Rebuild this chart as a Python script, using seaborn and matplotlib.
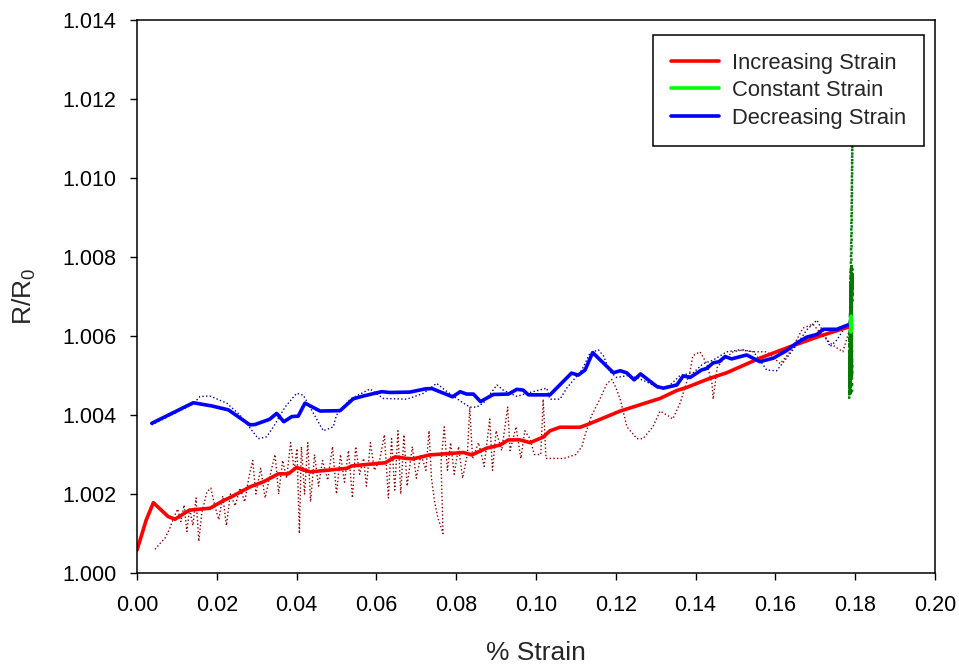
import matplotlib
matplotlib.use("Agg")
import matplotlib.pyplot as plt
import seaborn as sns
from matplotlib.lines import Line2D
from matplotlib.ticker import FormatStrFormatter

# ---- smoothed curves ----
inc_strain = [0.0000, 0.0023, 0.0041, 0.0078, 0.0095, 0.0131, 0.0183, 0.0216, 0.0237, 0.0283,
              0.0317, 0.0354, 0.0379, 0.0400, 0.0434, 0.0526, 0.0538, 0.0609, 0.0622, 0.0647,
              0.0676, 0.0692, 0.0734, 0.0818, 0.0839, 0.0876, 0.0910, 0.0931, 0.0960, 0.0985,
              0.1018, 0.1035, 0.1060, 0.1110, 0.1127, 0.1211, 0.1311, 0.1353, 0.1378, 0.1436,
              0.1478, 0.1561, 0.1637, 0.1712, 0.1787]
inc_r = [1.00058, 1.00134, 1.00178, 1.00143, 1.00136, 1.00159, 1.00164, 1.00183, 1.00193, 1.00218,
         1.00231, 1.00251, 1.00251, 1.00267, 1.00256, 1.00265, 1.00271, 1.00278, 1.00279, 1.00294,
         1.00290, 1.00289, 1.00299, 1.00305, 1.00299, 1.00316, 1.00324, 1.00337, 1.00337, 1.00330,
         1.00344, 1.00360, 1.00369, 1.00369, 1.00375, 1.00410, 1.00442, 1.00462, 1.00470, 1.00493,
         1.00507, 1.00544, 1.00573, 1.00600, 1.00624]

const_strain = [0.1788, 0.1790, 0.1791, 0.1789, 0.1790]
const_r = [1.0063, 1.0065, 1.0062, 1.0061, 1.0064]

dec_strain = [0.0037, 0.0141, 0.0187, 0.0229, 0.0283, 0.0296, 0.0332, 0.0350, 0.0368, 0.0388,
              0.0404, 0.0421, 0.0459, 0.0509, 0.0542, 0.0567, 0.0613, 0.0634, 0.0684, 0.0722,
              0.0739, 0.0791, 0.0810, 0.0826, 0.0843, 0.0861, 0.0893, 0.0931, 0.0952, 0.0968,
              0.0981, 0.1035, 0.1089, 0.1106, 0.1123, 0.1142, 0.1194, 0.1211, 0.1227, 0.1246,
              0.1262, 0.1303, 0.1319, 0.1353, 0.1369, 0.1386, 0.1415, 0.1428, 0.1444, 0.1459,
              0.1474, 0.1490, 0.1528, 0.1561, 0.1595, 0.1628, 0.1653, 0.1678, 0.1704, 0.1720,
              0.1754, 0.1787]
dec_r = [1.00379, 1.00431, 1.00423, 1.00413, 1.00375, 1.00376, 1.00389, 1.00404, 1.00383, 1.00396,
         1.00397, 1.00430, 1.00410, 1.00411, 1.00441, 1.00448, 1.00459, 1.00457, 1.00458, 1.00466,
         1.00467, 1.00446, 1.00459, 1.00453, 1.00453, 1.00434, 1.00452, 1.00453, 1.00465, 1.00463,
         1.00451, 1.00451, 1.00506, 1.00501, 1.00514, 1.00558, 1.00507, 1.00512, 1.00507, 1.00489,
         1.00504, 1.00472, 1.00468, 1.00476, 1.00499, 1.00495, 1.00514, 1.00518, 1.00532, 1.00535,
         1.00548, 1.00542, 1.00552, 1.00535, 1.00544, 1.00563, 1.00582, 1.00597, 1.00604, 1.00617,
         1.00617, 1.00630]

# ---- raw measurements ----
inc_raw_strain = [0.0045, 0.0058, 0.0070, 0.0081, 0.0092, 0.0102, 0.0110, 0.0118, 0.0125, 0.0132,
                  0.0140, 0.0148, 0.0155, 0.0162, 0.0175, 0.0185, 0.0195, 0.0205, 0.0215, 0.0224,
                  0.0234, 0.0246, 0.0258, 0.0270, 0.0280, 0.0290, 0.0298, 0.0310, 0.0321, 0.0333,
                  0.0346, 0.0355, 0.0365, 0.0375, 0.0385, 0.0394, 0.0401, 0.0407, 0.0412, 0.0420,
                  0.0428, 0.0435, 0.0445, 0.0455, 0.0465, 0.0478, 0.0490, 0.0500, 0.0510, 0.0520,
                  0.0530, 0.0540, 0.0548, 0.0558, 0.0568, 0.0575, 0.0585, 0.0595, 0.0608, 0.0620,
                  0.0630, 0.0638, 0.0646, 0.0654, 0.0661, 0.0669, 0.0677, 0.0690, 0.0700, 0.0712,
                  0.0724, 0.0732, 0.0738, 0.0746, 0.0754, 0.0767, 0.0762, 0.0770, 0.0778, 0.0786,
                  0.0795, 0.0806, 0.0816, 0.0828, 0.0834, 0.0841, 0.0856, 0.0870, 0.0884, 0.0891,
                  0.0900, 0.0914, 0.0929, 0.0935, 0.0950, 0.0962, 0.0972, 0.0985, 0.0996, 0.1005,
                  0.1012, 0.1018, 0.1025, 0.1040, 0.1070, 0.1100, 0.1115, 0.1123, 0.1140, 0.1160,
                  0.1178, 0.1190, 0.1200, 0.1211, 0.1228, 0.1253, 0.1268, 0.1293, 0.1311, 0.1328,
                  0.1343, 0.1361, 0.1386, 0.1393, 0.1411, 0.1428, 0.1441, 0.1444, 0.1454, 0.1469,
                  0.1494, 0.1519, 0.1544, 0.1579, 0.1612, 0.1637, 0.1669, 0.1694, 0.1719, 0.1740,
                  0.1754, 0.1769, 0.1787]
inc_raw_r = [1.00060, 1.00075, 1.00088, 1.00110, 1.00140, 1.00162, 1.00130, 1.00172, 1.00105, 1.00165,
             1.00120, 1.00190, 1.00080, 1.00150, 1.00205, 1.00215, 1.00170, 1.00135, 1.00195, 1.00120,
             1.00200, 1.00170, 1.00215, 1.00180, 1.00240, 1.00285, 1.00200, 1.00265, 1.00190, 1.00245,
             1.00300, 1.00200, 1.00285, 1.00240, 1.00330, 1.00260, 1.00315, 1.00100, 1.00320, 1.00200,
             1.00330, 1.00180, 1.00300, 1.00220, 1.00285, 1.00235, 1.00320, 1.00200, 1.00300, 1.00230,
             1.00310, 1.00190, 1.00320, 1.00250, 1.00290, 1.00220, 1.00330, 1.00260, 1.00285, 1.00350,
             1.00190, 1.00340, 1.00210, 1.00360, 1.00200, 1.00350, 1.00220, 1.00320, 1.00240, 1.00300,
             1.00260, 1.00360, 1.00240, 1.00180, 1.00140, 1.00100, 1.00280, 1.00370, 1.00260, 1.00330,
             1.00250, 1.00320, 1.00240, 1.00300, 1.00420, 1.00290, 1.00330, 1.00270, 1.00390, 1.00260,
             1.00360, 1.00310, 1.00420, 1.00310, 1.00370, 1.00290, 1.00360, 1.00340, 1.00300, 1.00300,
             1.00300, 1.00440, 1.00290, 1.00290, 1.00290, 1.00300, 1.00320, 1.00350, 1.00400, 1.00440,
             1.00480, 1.00490, 1.00470, 1.00440, 1.00370, 1.00340, 1.00340, 1.00370, 1.00410, 1.00400,
             1.00390, 1.00430, 1.00510, 1.00550, 1.00560, 1.00530, 1.00480, 1.00440, 1.00520, 1.00540,
             1.00560, 1.00565, 1.00560, 1.00560, 1.00530, 1.00560, 1.00620, 1.00630, 1.00600, 1.00580,
             1.00570, 1.00560, 1.00620]

const_raw_strain = [0.1786, 0.1791, 0.1788, 0.1793, 0.1787, 0.1790, 0.1792, 0.1789, 0.1785, 0.1791,
                    0.1786, 0.1791, 0.1788, 0.1793, 0.1787, 0.1790, 0.1792, 0.1789, 0.1785, 0.1791,
                    0.1786, 0.1791, 0.1788, 0.1793, 0.1787, 0.1790, 0.1792, 0.1789, 0.1785, 0.1791,
                    0.1786, 0.1791, 0.1788, 0.1793, 0.1787, 0.1790, 0.1792, 0.1789, 0.1785, 0.1791,
                    0.1786, 0.1791, 0.1788, 0.1793, 0.1787, 0.1790, 0.1792, 0.1789, 0.1785, 0.1791,
                    0.1786, 0.1791, 0.1788, 0.1793, 0.1787, 0.1790, 0.1792, 0.1789, 0.1788, 0.1790]
const_raw_r = [1.0063, 1.0074, 1.0047, 1.0076, 1.0045, 1.0072, 1.0050, 1.0077, 1.0044, 1.0070,
               1.0052, 1.0075, 1.0048, 1.0110, 1.0060, 1.0073, 1.0046, 1.0071, 1.0049, 1.0076,
               1.0053, 1.0069, 1.0045, 1.0074, 1.0051, 1.0078, 1.0056, 1.0072, 1.0048, 1.0075,
               1.0047, 1.0068, 1.0054, 1.0077, 1.0046, 1.0070, 1.0050, 1.0073, 1.0058, 1.0066,
               1.0049, 1.0071, 1.0055, 1.0076, 1.0047, 1.0069, 1.0052, 1.0074, 1.0045, 1.0072,
               1.0057, 1.0067, 1.0050, 1.0075, 1.0048, 1.0070, 1.0059, 1.0065, 1.0061, 1.0063]

dec_raw_strain = [0.0037, 0.0141, 0.0158, 0.0183, 0.0225, 0.0258, 0.0304, 0.0325, 0.0342, 0.0371,
                  0.0400, 0.0417, 0.0450, 0.0467, 0.0492, 0.0500, 0.0534, 0.0584, 0.0617, 0.0676,
                  0.0718, 0.0751, 0.0772, 0.0818, 0.0835, 0.0851, 0.0868, 0.0902, 0.0918, 0.0952,
                  0.0977, 0.1027, 0.1035, 0.1060, 0.1077, 0.1115, 0.1135, 0.1156, 0.1169, 0.1185,
                  0.1202, 0.1231, 0.1256, 0.1277, 0.1307, 0.1332, 0.1361, 0.1394, 0.1419, 0.1444,
                  0.1478, 0.1511, 0.1545, 0.1561, 0.1578, 0.1603, 0.1628, 0.1653, 0.1678, 0.1704,
                  0.1720, 0.1737, 0.1754, 0.1770, 0.1787]
dec_raw_r = [1.00375, 1.00428, 1.00447, 1.00448, 1.00430, 1.00400, 1.00340, 1.00345, 1.00370, 1.00420,
             1.00455, 1.00450, 1.00390, 1.00360, 1.00370, 1.00400, 1.00440, 1.00466, 1.00442, 1.00440,
             1.00455, 1.00480, 1.00463, 1.00430, 1.00420, 1.00420, 1.00430, 1.00476, 1.00463, 1.00447,
             1.00455, 1.00468, 1.00440, 1.00440, 1.00468, 1.00514, 1.00556, 1.00565, 1.00550, 1.00510,
             1.00495, 1.00500, 1.00493, 1.00484, 1.00468, 1.00472, 1.00500, 1.00507, 1.00530, 1.00539,
             1.00560, 1.00565, 1.00560, 1.00539, 1.00514, 1.00512, 1.00544, 1.00577, 1.00615, 1.00640,
             1.00610, 1.00573, 1.00590, 1.00615, 1.00630]

series_labels = ["Increasing Strain", "Constant Strain", "Decreasing Strain"]
x_ticks = [0.00, 0.02, 0.04, 0.06, 0.08, 0.10, 0.12, 0.14, 0.16, 0.18, 0.20]
y_ticks = [1.000, 1.002, 1.004, 1.006, 1.008, 1.010, 1.012, 1.014]

sns.set_style("ticks")
plt.rcParams["font.family"] = ["Liberation Sans", "DejaVu Sans"]
plt.rcParams["mathtext.fontset"] = "custom"
plt.rcParams["mathtext.rm"] = "Liberation Sans"
plt.rcParams["mathtext.it"] = "Liberation Sans"

fig = plt.figure(figsize=(9.59, 6.65), dpi=100)
ax = fig.add_axes([137 / 959, 1 - 573 / 665, (935 - 137) / 959, (573 - 20) / 665])

raw_kw = dict(sort=False, estimator=None, ax=ax, legend=False, linestyle=":")
sns.lineplot(x=inc_raw_strain, y=inc_raw_r, color="#8B0000", linewidth=1.0, **raw_kw)
sns.lineplot(x=dec_raw_strain, y=dec_raw_r, color="#00008B", linewidth=1.0, **raw_kw)
sns.lineplot(x=const_raw_strain, y=const_raw_r, color="#007A00", linewidth=1.8, **raw_kw)

fit_kw = dict(sort=False, estimator=None, linewidth=2.6, ax=ax, legend=False)
sns.lineplot(x=inc_strain, y=inc_r, color="#FF0000", **fit_kw)
sns.lineplot(x=dec_strain, y=dec_r, color="#0000FF", **fit_kw)
sns.lineplot(x=const_strain, y=const_r, color="#00FF00", **fit_kw)

ax.set_xlim(x_ticks[0], x_ticks[-1])
ax.set_ylim(y_ticks[0], y_ticks[-1])
ax.set_xticks(x_ticks)
ax.set_yticks(y_ticks)
ax.xaxis.set_major_formatter(FormatStrFormatter("%.2f"))
ax.yaxis.set_major_formatter(FormatStrFormatter("%.3f"))
ax.tick_params(axis="both", direction="out", length=5, width=1.0, labelsize=15.5,
               colors="black", top=False, right=False)
ax.tick_params(axis="x", pad=11)
ax.tick_params(axis="y", pad=10)
for sp in ax.spines.values():
    sp.set_visible(True)
    sp.set_linewidth(1.1)
    sp.set_color("black")

ax.set_xlabel("% Strain", fontsize=19, labelpad=18)
ax.set_ylabel("R/R$_0$", fontsize=19, labelpad=17)

handles = [Line2D([], [], color=c, linewidth=2.6) for c in ["#FF0000", "#00FF00", "#0000FF"]]
leg = ax.legend(handles, series_labels, loc="upper right",
                bbox_to_anchor=((924 - 137) / 798, (573 - 35) / 553),
                fontsize=15.8, frameon=True, fancybox=False, edgecolor="black",
                framealpha=1.0, handlelength=2.2, handletextpad=0.6, labelspacing=0.3,
                borderpad=0.8, borderaxespad=0.0)
leg.get_frame().set_linewidth(1.1)
leg.set_zorder(10)

fig.savefig("out.png", dpi=100)
